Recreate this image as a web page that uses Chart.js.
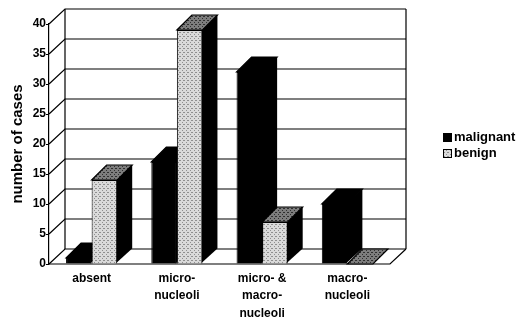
<!DOCTYPE html>
<html>
<head>
<meta charset="utf-8">
<script src="https://cdn.jsdelivr.net/npm/chart.js@4.4.1/dist/chart.umd.min.js"></script>
<style>
  html, body { margin: 0; padding: 0; background: #fff; }
  canvas { display: block; }
</style>
</head>
<body>
<canvas id="chart" width="523" height="324"></canvas>
<script>
// values
const categories = [['absent'], ['micro-', 'nucleoli'], ['micro- &', 'macro-', 'nucleoli'], ['macro-', 'nucleoli']];
const seriesNames = ['malignant', 'benign'];
const malignant = [1, 17, 32, 10];
const benign = [14, 39, 7, 0];
const yMin = 0, yMax = 40, yStep = 5;

// halftone-ish fills
function stipple(base, dot) {
    const c = document.createElement('canvas');
    c.width = 4; c.height = 4;
    const g = c.getContext('2d');
    g.fillStyle = base; g.fillRect(0, 0, 4, 4);
    g.fillStyle = dot;
    g.fillRect(0, 0, 1, 1); g.fillRect(2, 2, 1, 1); g.fillRect(3, 0, 1, 1);
    return g.createPattern(c, 'repeat');
}
const lightFill = stipple('#dadada', '#8f8f8f');
const topFill = stipple('#7d7d7d', '#2f2f2f');

const WALL = { dx: 16, dy: -15 };
const BAR = { dx: 15, dy: -15 };

const box3d = {
    id: 'box3d',
    beforeDraw(chart) {
        const ctx = chart.ctx;
        ctx.save();
        ctx.fillStyle = '#fff';
        ctx.fillRect(0, 0, chart.width, chart.height);
        ctx.restore();
    },
    beforeDatasetsDraw(chart) {
        const ctx = chart.ctx;
        const { left, right, bottom } = chart.chartArea;
        const ys = chart.scales.y;
        ctx.save();
        ctx.strokeStyle = '#000';
        ctx.lineWidth = 1.2;
        // back wall + left wall lines
        ys.ticks.forEach(t => {
            const py = ys.getPixelForValue(t.value);
            ctx.beginPath();
            ctx.moveTo(left, py);
            ctx.lineTo(left + WALL.dx, py + WALL.dy);
            ctx.lineTo(right + WALL.dx, py + WALL.dy);
            ctx.stroke();
        });
        const yTop = ys.getPixelForValue(yMax);
        ctx.beginPath();
        ctx.moveTo(left + WALL.dx, yTop + WALL.dy);
        ctx.lineTo(left + WALL.dx, bottom + WALL.dy);
        ctx.moveTo(right + WALL.dx, yTop + WALL.dy);
        ctx.lineTo(right + WALL.dx, bottom + WALL.dy);
        // floor
        ctx.moveTo(left, bottom);
        ctx.lineTo(right, bottom);
        ctx.lineTo(right + WALL.dx, bottom + WALL.dy);
        ctx.stroke();

        // side and top faces of bars
        chart.data.datasets.forEach((ds, i) => {
            chart.getDatasetMeta(i).data.forEach(bar => {
                const p = bar.getProps(['x', 'y', 'base', 'width'], true);
                const l = p.x - p.width / 2, r = p.x + p.width / 2;
                ctx.beginPath();
                ctx.moveTo(r - 1.5, p.y);
                ctx.lineTo(r + BAR.dx, p.y + BAR.dy);
                ctx.lineTo(r + BAR.dx, p.base + BAR.dy);
                ctx.lineTo(r - 1.5, p.base);
                ctx.closePath();
                ctx.fillStyle = '#000';
                ctx.fill();
                ctx.beginPath();
                ctx.moveTo(l, p.y);
                ctx.lineTo(l + BAR.dx, p.y + BAR.dy);
                ctx.lineTo(r + BAR.dx, p.y + BAR.dy);
                ctx.lineTo(r, p.y);
                ctx.closePath();
                ctx.fillStyle = i === 0 ? '#000' : topFill;
                ctx.fill();
                ctx.stroke();
            });
        });
        ctx.restore();
    },
    afterDraw(chart) {
        // legend at the right
        const ctx = chart.ctx;
        ctx.save();
        ctx.font = 'bold 13px "Liberation Sans", Arial, sans-serif';
        ctx.textBaseline = 'middle';
        chart.data.datasets.forEach((ds, i) => {
            const cy = 137 + i * 16;
            ctx.fillStyle = ds.backgroundColor;
            ctx.fillRect(443, cy - 4, 9, 9);
            ctx.strokeStyle = '#000';
            ctx.lineWidth = 1;
            ctx.strokeRect(443.5, cy - 3.5, 8, 8);
            ctx.fillStyle = '#000';
            ctx.fillText(ds.label, 454, cy);
        });
        ctx.restore();
    }
};

new Chart(document.getElementById('chart'), {
    type: 'bar',
    data: {
        labels: categories,
        datasets: [
            { label: seriesNames[0], data: malignant, backgroundColor: '#000', borderColor: '#000', borderWidth: 1 },
            { label: seriesNames[1], data: benign, backgroundColor: lightFill, borderColor: '#000', borderWidth: 1 }
        ]
    },
    options: {
        responsive: false,
        animation: false,
        layout: { padding: { top: 24, right: 133, left: 0, bottom: 0 } },
        plugins: { legend: { display: false }, tooltip: { enabled: false } },
        datasets: { bar: { categoryPercentage: 0.6, barPercentage: 1.0 } },
        scales: {
            x: {
                grid: { display: false, drawTicks: false },
                border: { display: false },
                ticks: {
                    color: '#000', padding: 6, maxRotation: 0, autoSkip: false,
                    font: { family: '"Liberation Sans", Arial, sans-serif', size: 12, weight: 'bold', lineHeight: 1.45 }
                },
                afterFit: s => { s.height = 60; }
            },
            y: {
                min: yMin, max: yMax,
                grid: { display: true, drawOnChartArea: false, drawTicks: true, tickLength: 3, color: '#000' },
                border: { display: true, color: '#000', width: 1.2 },
                ticks: {
                    stepSize: yStep, color: '#000', padding: 0,
                    font: { family: '"Liberation Sans", Arial, sans-serif', size: 12, weight: 'bold' }
                },
                title: {
                    display: true, text: 'number of cases', color: '#000',
                    padding: { top: 9, bottom: 0 },
                    font: { family: '"Liberation Sans", Arial, sans-serif', size: 15, weight: 'bold' }
                },
                afterFit: s => { s.width = 49; }
            }
        }
    },
    plugins: [box3d]
});
</script>
</body>
</html>
